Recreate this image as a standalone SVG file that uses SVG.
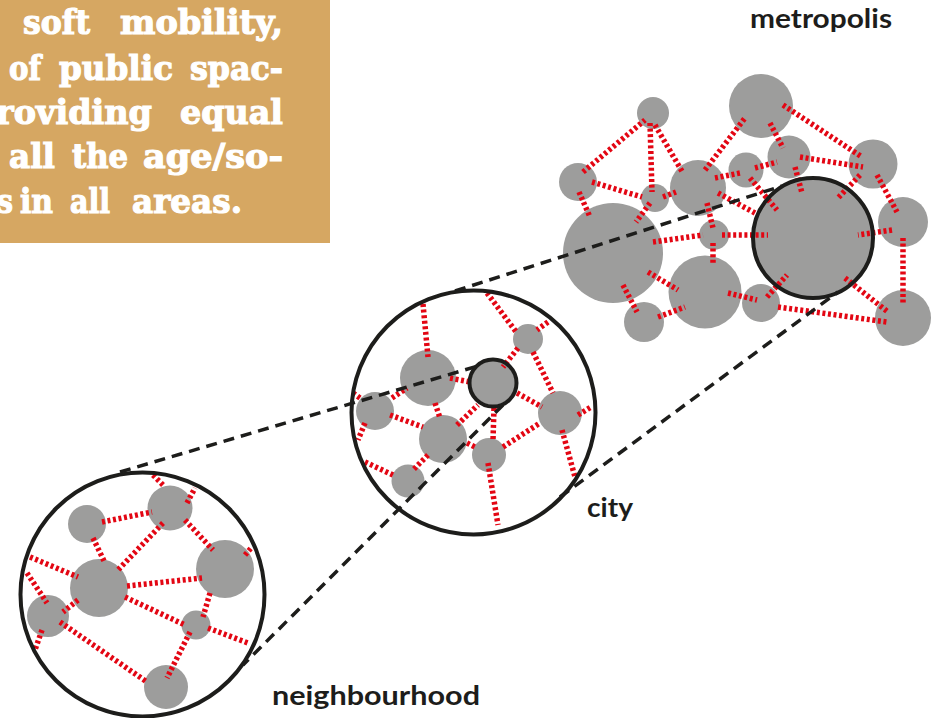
<svg xmlns="http://www.w3.org/2000/svg" width="937" height="718" viewBox="0 0 937 718">
<style>
.n{fill:#9d9d9c}
.r{stroke:#e30613;stroke-width:5.5;stroke-dasharray:3 2.6;fill:none}
.k{stroke:#1d1d1b;stroke-width:4;fill:none}
.kd{stroke:#1d1d1b;stroke-width:3.5;stroke-dasharray:11 7;fill:none}
.t{fill:#fff;stroke:#fff;stroke-width:1.2;font-family:"DejaVu Serif","Liberation Serif",serif;font-weight:bold;font-size:34px}
.lb{fill:#1d1d1b;font-family:Lato,"Liberation Sans",sans-serif;font-weight:bold;font-size:26px}
</style>
<rect width="937" height="718" fill="#fff"/>
<g id="textbox">
<rect x="0" y="0" width="330" height="243" fill="#d6a762"/>
<text class="t" x="23" y="34" textLength="67" lengthAdjust="spacingAndGlyphs">soft</text>
<text class="t" x="120" y="34" textLength="163" lengthAdjust="spacingAndGlyphs">mobility,</text>
<text class="t" x="9" y="80" textLength="32" lengthAdjust="spacingAndGlyphs">of</text>
<text class="t" x="59" y="80" textLength="114" lengthAdjust="spacingAndGlyphs">public</text>
<text class="t" x="190" y="80" textLength="93" lengthAdjust="spacingAndGlyphs">spac-</text>
<text class="t" x="-4" y="124" textLength="156" lengthAdjust="spacingAndGlyphs">roviding</text>
<text class="t" x="180" y="124" textLength="103" lengthAdjust="spacingAndGlyphs">equal</text>
<text class="t" x="9" y="168" textLength="46" lengthAdjust="spacingAndGlyphs">all</text>
<text class="t" x="72" y="168" textLength="56" lengthAdjust="spacingAndGlyphs">the</text>
<text class="t" x="143" y="168" textLength="140" lengthAdjust="spacingAndGlyphs">age/so-</text>
<text class="t" x="-3" y="213" textLength="16" lengthAdjust="spacingAndGlyphs">s</text>
<text class="t" x="20" y="213" textLength="33" lengthAdjust="spacingAndGlyphs">in</text>
<text class="t" x="70" y="213" textLength="40" lengthAdjust="spacingAndGlyphs">all</text>
<text class="t" x="132" y="213" textLength="110" lengthAdjust="spacingAndGlyphs">areas.</text>
</g>

<!-- metropolis nodes -->
<g id="m-a"><circle class="n" cx="653" cy="113" r="16"/></g>
<g id="m-b"><circle class="n" cx="761" cy="106" r="32"/></g>
<g id="m-c"><circle class="n" cx="578" cy="182" r="19"/></g>
<g id="m-d"><circle class="n" cx="655" cy="198" r="14"/></g>
<g id="m-e"><circle class="n" cx="698" cy="188" r="28"/></g>
<g id="m-f"><circle class="n" cx="746" cy="170" r="17.5"/></g>
<g id="m-g"><circle class="n" cx="789" cy="157" r="21.5"/></g>
<g id="m-h"><circle class="n" cx="873" cy="164" r="24.5"/></g>
<g id="m-i"><circle class="n" cx="613" cy="253" r="50"/></g>
<g id="m-j"><circle class="n" cx="714" cy="235" r="15"/></g>
<g id="m-k"><circle class="n" cx="813" cy="238" r="60"/></g>
<g id="m-l"><circle class="n" cx="903" cy="222" r="25"/></g>
<g id="m-m"><circle class="n" cx="705" cy="292" r="36.5"/></g>
<g id="m-n"><circle class="n" cx="644" cy="322" r="20"/></g>
<g id="m-o"><circle class="n" cx="761" cy="303" r="19"/></g>
<g id="m-p"><circle class="n" cx="903" cy="318" r="28"/></g>

<!-- city nodes -->
<g id="c-a"><circle class="n" cx="428" cy="378" r="28"/></g>
<g id="c-b"><circle class="n" cx="375" cy="411" r="19"/></g>
<g id="c-c"><circle class="n" cx="443" cy="439" r="24"/></g>
<g id="c-d"><circle class="n" cx="408" cy="481" r="16.5"/></g>
<g id="c-e"><circle class="n" cx="489" cy="455" r="17"/></g>
<g id="c-f"><circle class="n" cx="560" cy="413" r="22"/></g>
<g id="c-g"><circle class="n" cx="528" cy="339" r="15"/></g>
<g id="c-h"><circle class="n" cx="493" cy="383" r="22"/></g>

<!-- neighbourhood nodes -->
<g id="h-1"><circle class="n" cx="87" cy="524" r="19"/></g>
<g id="h-2"><circle class="n" cx="170" cy="508" r="22.5"/></g>
<g id="h-3"><circle class="n" cx="99" cy="588" r="29"/></g>
<g id="h-4"><circle class="n" cx="225" cy="569" r="29"/></g>
<g id="h-5"><circle class="n" cx="48" cy="616" r="21"/></g>
<g id="h-6"><circle class="n" cx="196" cy="625" r="14.5"/></g>
<g id="h-7"><circle class="n" cx="166" cy="687" r="22"/></g>

<g id="connectors">
<!-- metropolis -->
<line class="r" x1="583" y1="172" x2="645" y2="120"/>
<line class="r" x1="650" y1="123" x2="652" y2="192"/>
<line class="r" x1="655" y1="125" x2="683" y2="173"/>
<line class="r" x1="592" y1="182" x2="642" y2="197"/>
<line class="r" x1="579" y1="192" x2="590" y2="217"/>
<line class="r" x1="650" y1="203" x2="636" y2="222"/>
<line class="r" x1="663" y1="197" x2="676" y2="192"/>
<line class="r" x1="705" y1="170" x2="745" y2="118"/>
<line class="r" x1="715" y1="178" x2="740" y2="173"/>
<line class="r" x1="770" y1="123" x2="783" y2="148"/>
<line class="r" x1="783" y1="105" x2="862" y2="157"/>
<line class="r" x1="800" y1="157" x2="863" y2="167"/>
<line class="r" x1="755" y1="168" x2="777" y2="162"/>
<line class="r" x1="750" y1="178" x2="777" y2="210"/>
<line class="r" x1="795" y1="167" x2="802" y2="193"/>
<line class="r" x1="718" y1="193" x2="755" y2="213"/>
<line class="r" x1="860" y1="175" x2="838" y2="198"/>
<line class="r" x1="877" y1="175" x2="897" y2="212"/>
<line class="r" x1="892" y1="230" x2="858" y2="235"/>
<line class="r" x1="653" y1="242" x2="703" y2="235"/>
<line class="r" x1="722" y1="235" x2="768" y2="235"/>
<line class="r" x1="713" y1="243" x2="713" y2="265"/>
<line class="r" x1="707" y1="203" x2="713" y2="228"/>
<line class="r" x1="648" y1="272" x2="678" y2="290"/>
<line class="r" x1="623" y1="285" x2="637" y2="312"/>
<line class="r" x1="658" y1="317" x2="685" y2="307"/>
<line class="r" x1="728" y1="293" x2="757" y2="300"/>
<line class="r" x1="767" y1="297" x2="787" y2="275"/>
<line class="r" x1="845" y1="278" x2="888" y2="312"/>
<line class="r" x1="778" y1="307" x2="887" y2="322"/>
<line class="r" x1="903" y1="238" x2="903" y2="303"/>
<!-- city -->
<line class="r" x1="423" y1="304" x2="428" y2="357"/>
<line class="r" x1="487" y1="293" x2="517" y2="333"/>
<line class="r" x1="518" y1="348" x2="503" y2="367"/>
<line class="r" x1="548" y1="322" x2="537" y2="330"/>
<line class="r" x1="533" y1="352" x2="553" y2="393"/>
<line class="r" x1="450" y1="378" x2="470" y2="382"/>
<line class="r" x1="392" y1="398" x2="407" y2="388"/>
<line class="r" x1="353" y1="393" x2="360" y2="398"/>
<line class="r" x1="365" y1="423" x2="358" y2="440"/>
<line class="r" x1="390" y1="415" x2="423" y2="427"/>
<line class="r" x1="435" y1="403" x2="440" y2="418"/>
<line class="r" x1="457" y1="425" x2="478" y2="405"/>
<line class="r" x1="494" y1="408" x2="493" y2="440"/>
<line class="r" x1="517" y1="393" x2="542" y2="407"/>
<line class="r" x1="503" y1="447" x2="540" y2="423"/>
<line class="r" x1="578" y1="415" x2="591" y2="407"/>
<line class="r" x1="562" y1="430" x2="575" y2="477"/>
<line class="r" x1="488" y1="463" x2="498" y2="525"/>
<line class="r" x1="428" y1="455" x2="413" y2="470"/>
<line class="r" x1="365" y1="462" x2="393" y2="475"/>
<line class="r" x1="467" y1="443" x2="475" y2="447"/>
<!-- neighbourhood -->
<line class="r" x1="102" y1="522" x2="152" y2="512"/>
<line class="r" x1="163" y1="485" x2="153" y2="475"/>
<line class="r" x1="187" y1="503" x2="195" y2="488"/>
<line class="r" x1="185" y1="520" x2="213" y2="550"/>
<line class="r" x1="245" y1="555" x2="252" y2="547"/>
<line class="r" x1="93" y1="538" x2="105" y2="563"/>
<line class="r" x1="163" y1="523" x2="118" y2="570"/>
<line class="r" x1="30" y1="557" x2="78" y2="577"/>
<line class="r" x1="127" y1="586" x2="202" y2="578"/>
<line class="r" x1="27" y1="573" x2="47" y2="603"/>
<line class="r" x1="78" y1="600" x2="63" y2="612"/>
<line class="r" x1="42" y1="630" x2="35" y2="650"/>
<line class="r" x1="125" y1="597" x2="185" y2="625"/>
<line class="r" x1="210" y1="593" x2="203" y2="617"/>
<line class="r" x1="208" y1="628" x2="248" y2="643"/>
<line class="r" x1="60" y1="622" x2="147" y2="682"/>
<line class="r" x1="190" y1="632" x2="167" y2="678"/>
<!-- zoom lines -->
<line class="kd" x1="455" y1="291" x2="782" y2="186"/>
<line class="kd" x1="560" y1="497" x2="838" y2="292"/>
<line class="kd" x1="120" y1="472" x2="478" y2="366"/>
<line class="kd" x1="503" y1="405" x2="243" y2="665"/>
</g>

<g id="frames">
<circle class="k" cx="813" cy="238" r="60" stroke-width="4.5"/>
<circle class="k" cx="473.5" cy="412.5" r="122"/>
<circle class="k" cx="493" cy="383" r="23.5"/>
<circle class="k" cx="142.5" cy="594.5" r="122"/>
</g>

<g id="labels">
<text class="lb" x="750" y="28" textLength="142" lengthAdjust="spacingAndGlyphs">metropolis</text>
<text class="lb" x="587" y="517" textLength="46" lengthAdjust="spacingAndGlyphs">city</text>
<text class="lb" x="272" y="705" textLength="208" lengthAdjust="spacingAndGlyphs">neighbourhood</text>
</g>
</svg>
